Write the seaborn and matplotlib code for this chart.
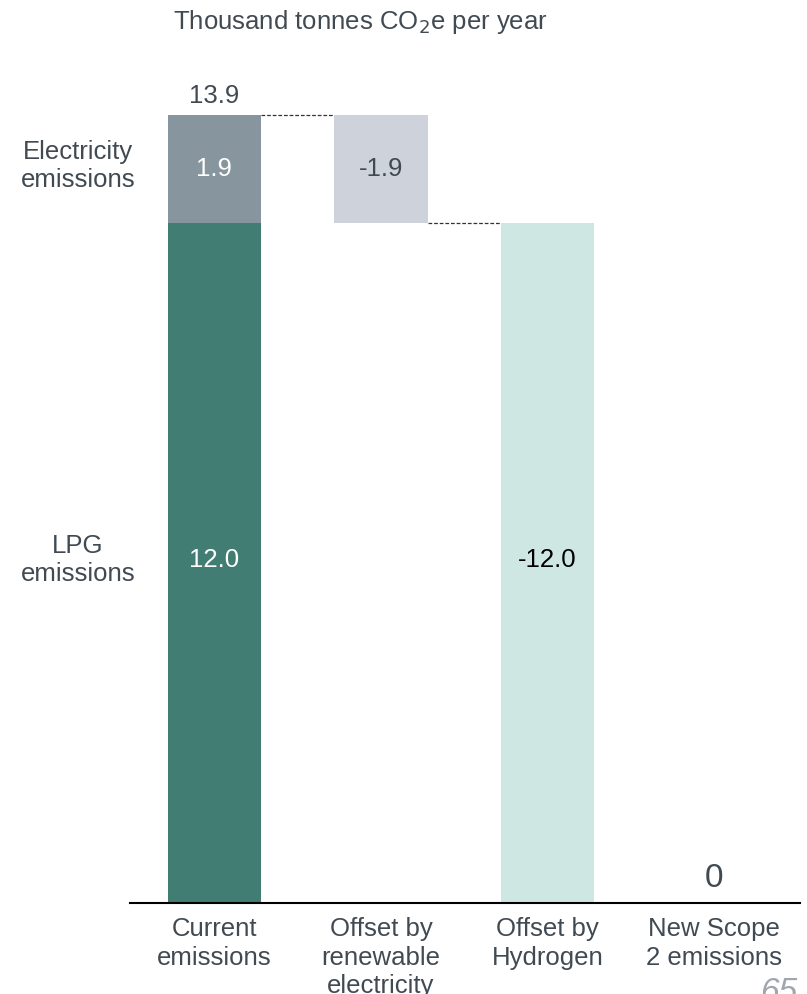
import matplotlib
matplotlib.use("Agg")
import matplotlib.pyplot as plt
import seaborn as sns
import pandas as pd

categories = ["Current\nemissions", "Offset by\nrenewable\nelectricity", "Offset by\nHydrogen", "New Scope\n2 emissions"]
lpg = 12.0
electricity = 1.9
total = 13.9
offset_electricity = -1.9
offset_hydrogen = -12.0
new_scope2 = 0
row_labels = ["Electricity\nemissions", "LPG\nemissions"]

sns.set_theme(style="white")
plt.rcParams['font.family'] = ['Liberation Sans', 'DejaVu Sans']

TXT = "#414A52"
C_LPG = "#427D74"
C_ELEC = "#87969E"
C_OFF_E = "#CED3DB"
C_OFF_H = "#CFE7E3"
FS = 18.5
LS = 1.25

fig = plt.figure(figsize=(8.07, 9.94), dpi=100)
ax = fig.add_axes([130/807, 1-903/994, 670/807, (903-60)/994])

bw = 0.56
x = list(range(len(categories)))

df_tot = pd.DataFrame({"cat": categories, "val": [total, 0, 0, 0]})
sns.barplot(data=df_tot, x="cat", y="val", order=categories, color=C_ELEC, width=bw, ax=ax,
            saturation=1, linewidth=0)
df_lpg = pd.DataFrame({"cat": categories, "val": [lpg, 0, -offset_hydrogen, 0]})
sns.barplot(data=df_lpg, x="cat", y="val", order=categories, palette=[C_LPG, C_LPG, C_OFF_H, C_LPG],
            hue="cat", legend=False, width=bw, ax=ax, saturation=1, linewidth=0)
ax.bar(x[1], -offset_electricity, bottom=total + offset_electricity, width=bw, color=C_OFF_E, linewidth=0)

ax.plot([x[0] + bw/2, x[1] - bw/2], [total, total], ls=(0, (3, 1.5)), color="#333333", lw=0.9)
ax.plot([x[1] + bw/2, x[2] - bw/2], [lpg, lpg], ls=(0, (3, 1.5)), color="#333333", lw=0.9)

ax.text(x[0], total + 0.12, f"{total:.1f}", ha="center", va="bottom", fontsize=FS, color=TXT)
ax.text(x[0], lpg + electricity/2, f"{electricity:.1f}", ha="center", va="center", fontsize=FS, color="white")
ax.text(x[0], lpg/2 + 0.05, f"{lpg:.1f}", ha="center", va="center", fontsize=FS, color="white")
ax.text(x[1], total + offset_electricity/2, f"{offset_electricity:.1f}", ha="center", va="center", fontsize=FS, color=TXT)
ax.text(x[2], -offset_hydrogen/2 + 0.05, f"{offset_hydrogen:.1f}", ha="center", va="center", fontsize=FS, color="black")
ax.text(x[3], 0.28, f"{new_scope2}", ha="center", va="baseline", fontsize=24, color=TXT)

ax.text(-0.82, lpg + electricity/2 + 0.05, row_labels[0], ha="center", va="center", fontsize=FS, color=TXT, linespacing=LS)
ax.text(-0.82, lpg/2 + 0.05, row_labels[1], ha="center", va="center", fontsize=FS, color=TXT, linespacing=LS)

ax.set_xlim(-0.507, 3.517)
ax.set_ylim(0, (903-60)/56.7)
ax.set_xlabel("")
ax.set_ylabel("")
ax.set_yticks([])
ax.tick_params(axis="x", length=0, pad=10, labelsize=FS, labelcolor=TXT)
ax.set_xticks(x)
ax.set_xticklabels(categories, linespacing=LS)
for s in ["top", "right", "left"]:
    ax.spines[s].set_visible(False)
ax.spines["bottom"].set_color("black")
ax.spines["bottom"].set_linewidth(1.5)

fig.text(173/807, 1-22/994, "Thousand tonnes CO$_2$e per year", ha="left", va="center", fontsize=FS, color=TXT)
fig.text(760/807, -14/994, "65", ha="left", va="bottom", fontsize=24, color="#A0A6AC", style="italic")

fig.savefig("out.png", dpi=100)
